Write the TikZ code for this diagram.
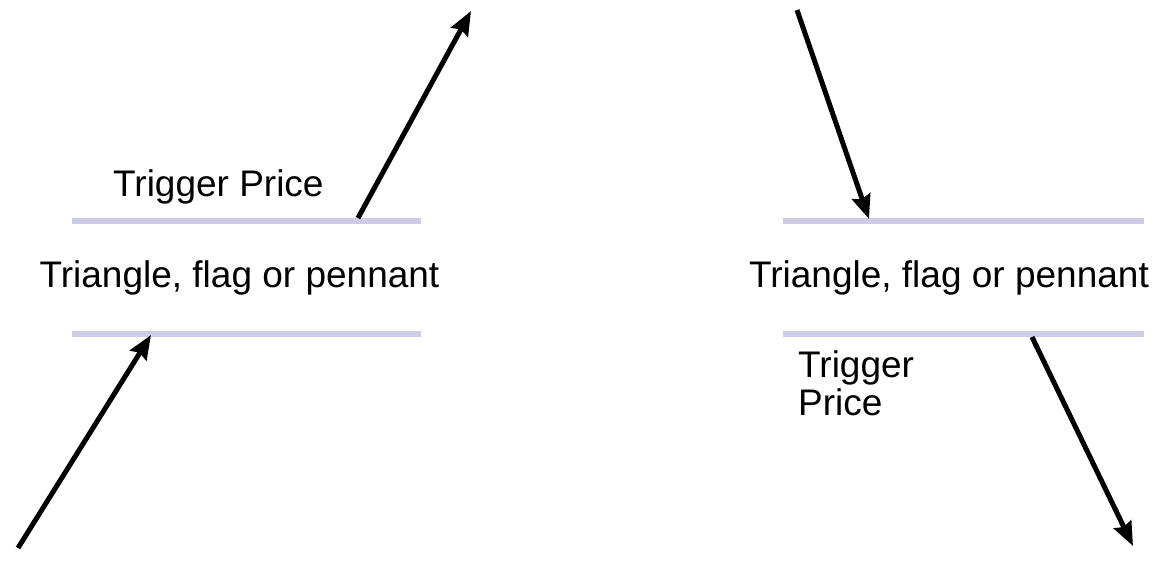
\documentclass[tikz,border=0pt]{standalone}
\usepackage{fontspec}
\setmainfont{Liberation Sans}
\usetikzlibrary{arrows.meta}
\definecolor{lavender}{RGB}{204,204,230}

\begin{document}
\begin{tikzpicture}[x=1pt, y=-1pt]
\tikzset{level/.style={draw=lavender, line width=5.5pt},
  move/.style={line width=5pt, -{Stealth[length=24pt, width=19pt, inset=3pt]}},
  label/.style={font=\fontsize{37}{38}\selectfont, inner sep=0pt}}
\useasboundingbox (0,0) rectangle (1159,561);
% left: breakout upwards
\draw[level] (72,221) -- (421,221);
\draw[level] (72,334) -- (421,334);
\node[label, anchor=base] (patL) at (239.5,288) {Triangle, flag or pennant};
\node[label, anchor=base west] (trigL) at (113,197) {Trigger Price};
\coordinate (a1) at (18,548);  \coordinate (a2) at (151,335);
\coordinate (b1) at (358,218); \coordinate (b2) at (471,11);
\draw[move] (a1) -- (a2);
\draw[move] (b1) -- (b2);
% right: breakout downwards
\draw[level] (783,221) -- (1144,221);
\draw[level] (783,334) -- (1144,334);
\node[label, anchor=base] (patR) at (949,288) {Triangle, flag or pennant};
\node[label, anchor=base west] (trigR) at (798,377) {Trigger};
\node[label, anchor=base west] (trigR2) at (798,415) {Price};
\coordinate (c1) at (797,10);   \coordinate (c2) at (869,219);
\coordinate (d1) at (1032,337); \coordinate (d2) at (1133,546);
\draw[move] (c1) -- (c2);
\draw[move] (d1) -- (d2);
\end{tikzpicture}
\end{document}
